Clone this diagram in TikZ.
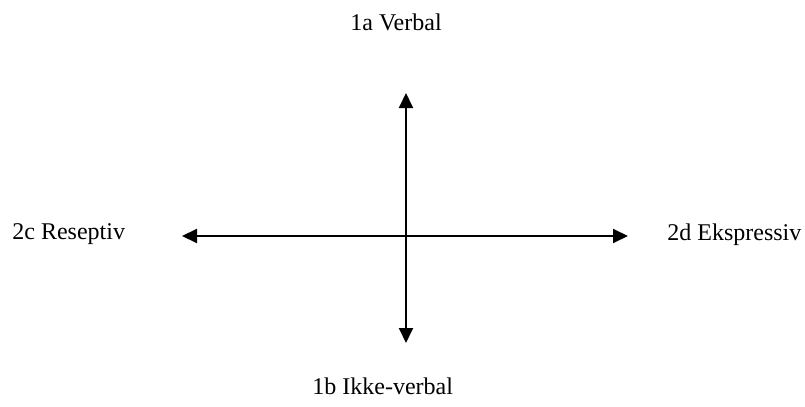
\documentclass[tikz,border=0pt]{standalone}
\usepackage{fontspec}
\setmainfont{Liberation Serif}
\usetikzlibrary{arrows.meta}
\begin{document}
\begin{tikzpicture}[x=0.5pt,y=-0.5pt,
  lbl/.style={inner sep=0pt,anchor=base west,font=\fontsize{12pt}{14pt}\selectfont},
  axis/.style={line width=1pt,{Triangle[length=7.5pt,width=7pt]}-{Triangle[length=7.5pt,width=7pt]}}]
\useasboundingbox (0,0) rectangle (805,407);
\coordinate (top) at (406,93);
\coordinate (bot) at (406,343);
\coordinate (lft) at (182,236);
\coordinate (rgt) at (628,236);
\draw[axis] (top) -- (bot);
\draw[axis] (lft) -- (rgt);
\node[lbl] (verbal) at (350,31) {1a Verbal};
\node[lbl] (ikke) at (312,394) {1b Ikke-verbal};
\node[lbl] (resep) at (12,239) {2c Reseptiv};
\node[lbl] (ekspr) at (667,240) {2d Ekspressiv};
\end{tikzpicture}
\end{document}
